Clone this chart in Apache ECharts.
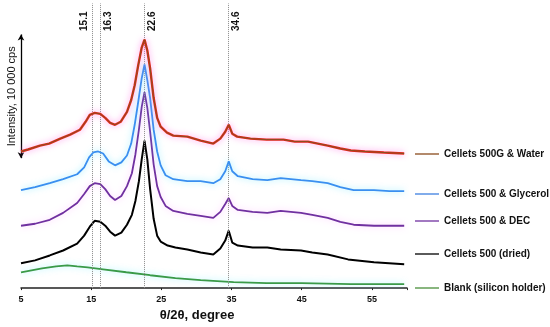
<!DOCTYPE html>
<html><head><meta charset="utf-8">
<script src="https://cdn.jsdelivr.net/npm/echarts@6/dist/echarts.min.js"></script>
<style>html,body{margin:0;padding:0;background:#fff}#c{width:550px;height:327px}</style>
</head><body><div id="c"></div>
<script>
// [2θ (degree), intensity (cps, offset stacked)]
const water = [[5,11040],[6,11200],[7.7,11520],[9,11680],[10.6,12080],[12,12400],[13.4,12800],[14.2,13440],[14.8,14000],[15.5,14160],[16.3,14080],[17,13760],[17.7,13360],[18.4,13200],[19.2,13440],[20.1,14240],[20.7,15200],[21.2,16400],[21.7,18000],[22.2,19440],[22.6,20080],[23,19200],[23.4,17760],[23.9,15360],[24.4,13760],[24.9,13040],[25.8,12560],[26.7,12320],[28.7,12240],[30.6,11920],[32.4,11680],[33.4,12080],[34.1,12640],[34.6,13200],[35.1,12480],[35.8,12240],[37.7,12080],[40,12000],[42.4,12000],[44,11840],[45.9,11840],[48.7,11520],[50.5,11280],[52,11120],[54,11040],[56.7,10960],[59.6,10880]];
const glycerol = [[5,7920],[7,8160],[9.1,8480],[11,8800],[13,9200],[14,9760],[14.7,10560],[15.3,10960],[16,11040],[16.7,10880],[17.5,10240],[18.4,9920],[19.3,10160],[20.1,10720],[20.7,11680],[21.2,13200],[21.7,15040],[22.2,16960],[22.6,18080],[23,16800],[23.4,15360],[23.9,12800],[24.4,11040],[24.9,9920],[25.6,9120],[26.7,8800],[28.7,8640],[30.6,8640],[32.4,8480],[33.4,8800],[34.1,9440],[34.6,10240],[35.1,9440],[35.9,9040],[38,8800],[40.1,8720],[42,8880],[44.9,8720],[46.5,8640],[48.7,8480],[50.5,8160],[52.4,7920],[55.3,7920],[57.5,7840],[59.6,7840]];
const dec = [[5,5040],[7,5200],[9.1,5520],[11,6080],[13,6880],[14,7600],[14.8,8240],[15.5,8480],[16.3,8400],[17,8000],[17.7,7440],[18.4,7120],[19.3,7440],[20.1,8240],[20.8,9280],[21.3,10800],[21.8,12800],[22.2,14640],[22.6,15840],[23,14560],[23.4,12640],[23.9,10000],[24.4,8240],[24.9,7360],[25.6,6640],[26.7,6240],[28.7,6000],[30.6,5840],[32.4,5680],[33.4,6160],[34.1,6800],[34.6,7280],[35.1,6640],[35.9,6320],[38,6160],[40.1,6080],[42,6240],[44.9,6080],[46.5,5920],[48.7,5680],[50.5,5360],[52.4,5120],[55.3,5040],[59.6,5040]];
const dried = [[5,2000],[7,2240],[9.1,2640],[11,3040],[13,3600],[14,4240],[14.8,4960],[15.5,5440],[16.3,5360],[17,5040],[17.7,4560],[18.4,4240],[19.3,4480],[20.1,5120],[20.8,5920],[21.3,7040],[21.8,8640],[22.2,10400],[22.6,11920],[23,10400],[23.4,8000],[23.9,5600],[24.4,4240],[24.9,3760],[25.9,3440],[27,3280],[28.7,3120],[30.6,2880],[32.4,2720],[33.4,3200],[34.1,3840],[34.6,4640],[35.1,3680],[35.9,3440],[38,3280],[40.1,3280],[42,3120],[44.9,3040],[46.5,2880],[48.7,2720],[51.6,2320],[55.3,2080],[59.6,1920]];
const blank = [[5,1280],[8,1600],[10,1760],[11.6,1840],[13,1760],[14.5,1680],[16.7,1520],[20,1280],[23.4,1040],[27,800],[30.6,640],[35.3,480],[40,400],[45,400],[52,320],[59.6,320]];
const names = ['Cellets 500G & Water','Cellets 500 & Glycerol','Cellets 500 & DEC','Cellets 500 (dried)','Blank (silicon holder)'];
const peaks = [15.1, 16.3, 22.6, 34.6];
const peakLabels = ['15.1','16.3','22.6','34.6'];
const xTicks = [5, 15, 25, 35, 45, 55];
const scaleBar = [10500, 20500]; // 10 000 cps
const scaleLabel = 'Intensity, 10 000 cps';

const FONT = 'Liberation Sans';
const chart = echarts.init(document.getElementById('c'), null, {renderer:'canvas'});
function ser(name, data, color, width, glow, z){
  return {type:'line', name:name, data:data, showSymbol:false, symbol:'none', z:z,
    lineStyle:{color:color, width:width, shadowColor:glow||'transparent', shadowBlur:glow?6:0},
    itemStyle:{color:color}, emphasis:{disabled:true}, animation:false};
}
const legendTops = [144, 184, 211, 244, 278];
const legendColors = ['#8a4b1c','#3d7fe0','#7030a0','#000000','#4a8f3a'];
const option = {
  animation:false,
  grid:{left:21, right:143, top:3.5, bottom:36},
  xAxis:{type:'value', min:5, max:60, interval:10,
    axisLine:{lineStyle:{color:'#222', width:1.5}},
    axisTick:{show:true, length:2, lineStyle:{color:'#222'}},
    splitLine:{show:false},
    axisLabel:{fontFamily:FONT, fontWeight:'bold', fontSize:9, color:'#111', margin:7,
      formatter:v => xTicks.includes(v) ? String(v) : ''},
    name:'θ/2θ, degree', nameLocation:'middle', nameGap:18,
    nameTextStyle:{fontFamily:FONT, fontWeight:'bold', fontSize:13, color:'#111', padding:[0,34,0,0]}},
  yAxis:{type:'value', min:0, max:23000, show:false},
  legend: names.map((n,i)=>({data:[{name:n, itemStyle:{color:legendColors[i]}, lineStyle:{color:legendColors[i]}}], left:410, top:legendTops[i], orient:'vertical',
    icon:'rect', itemWidth:24, itemHeight:1.3, selectedMode:false,
    textStyle:{fontFamily:FONT, fontWeight:'bold', fontSize:10, color:'#111'}})),
  series:[
    Object.assign(ser(names[4], blank, '#3a9a48', 1.8, 'rgba(120,240,255,0.7)', 2), {
      markLine:{silent:true, symbol:['none','none'], animation:false,
        lineStyle:{type:'dotted', color:'#8a8a8a', width:1},
        label:{show:true, distance:[8,3], fontFamily:FONT, fontWeight:'bold', fontSize:10, color:'#111',
          formatter:p => peakLabels[peaks.indexOf(p.value)]},
        data: peaks.map((p,i) => ({xAxis:p, label:{position: i===0 ? 'insideEndTop' : 'insideEndBottom'}}))}
    }),
    Object.assign(ser(names[3], dried, '#000000', 2, null, 3), {
      clip:false,
      markLine:{silent:true, symbol:['arrow','arrow'], symbolSize:[5,6], animation:false,
        lineStyle:{type:'solid', color:'#000', width:1.3},
        label:{show:true, position:'middle', distance:4, fontFamily:FONT, fontSize:11, color:'#111', formatter:scaleLabel},
        data:[[{coord:[5, scaleBar[0]]},{coord:[5, scaleBar[1]]}]]}
    }),
    ser(names[2], dec, '#7030a0', 1.8, 'rgba(255,150,255,0.5)', 4),
    ser(names[1], glycerol, '#3a8ff0', 1.8, 'rgba(100,230,255,0.7)', 5),
    ser('water-red', water, '#e8251c', 2.4, 'rgba(255,120,230,0.8)', 6),
    ser(names[0], water, '#6e5a1e', 0.8, null, 7)
  ]
};
chart.setOption(option);
</script></body></html>
